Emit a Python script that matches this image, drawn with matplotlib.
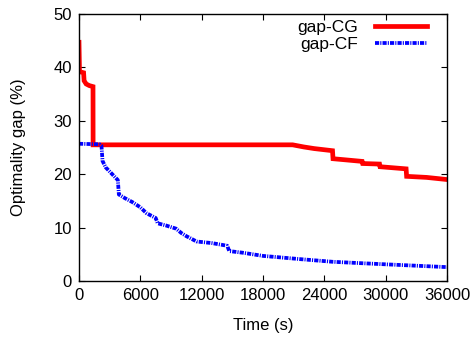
import matplotlib
matplotlib.use("Agg")
import matplotlib.pyplot as plt

plt.rcParams['font.family'] = ['Liberation Sans', 'DejaVu Sans']
plt.rcParams['font.size'] = 12
plt.rcParams['lines.scale_dashes'] = False

cg_time = [0, 50, 450, 500, 700, 1000, 1370, 1380, 2000, 20900, 22000, 23000, 24800, 24850,
           26000, 27700, 27750, 29400, 29450, 32000, 32050, 34000, 36000]
cg_gap = [44.7, 39.2, 39.0, 37.5, 36.9, 36.6, 36.4, 25.5, 25.5, 25.5, 25.1, 24.8, 24.4, 22.9,
          22.7, 22.4, 22.0, 21.9, 21.4, 21.0, 19.6, 19.4, 19.0]

cf_time = [0, 2000, 2200, 2300, 2600, 3000, 3500, 3800, 3900, 4500, 5200, 6000, 6600, 7500,
           7700, 8500, 9500, 10000, 10500, 11500, 13000, 14500, 14700, 16000, 18000, 21600,
           24800, 28000, 31400, 36000]
cf_gap = [25.7, 25.6, 25.3, 22.5, 21.3, 20.5, 19.5, 18.9, 16.2, 15.5, 14.8, 13.8, 12.7, 11.8,
          10.8, 10.4, 9.8, 9.0, 8.4, 7.4, 7.1, 6.6, 5.6, 5.3, 4.7, 4.1, 3.6, 3.3, 3.0, 2.6]

xticks = [0, 6000, 12000, 18000, 24000, 30000, 36000]
yticks = [0, 10, 20, 30, 40, 50]

fig = plt.figure(figsize=(4.76, 3.41), dpi=100)
ax = fig.add_axes([79/476, 1 - 281/341, (447-79)/476, (281-14)/341])

ax.plot(cg_time, cg_gap, color='#ff0000', lw=3.4, label='gap-CG', solid_joinstyle='miter')
ax.plot(cf_time, cf_gap, color='#0000ff', lw=2.7, linestyle=(0, (3, 0.8, 0.8, 0.8)),
        label='gap-CF')

ax.set_xlim(0, 36000)
ax.set_ylim(0, 50)
ax.set_xticks(xticks)
ax.set_yticks(yticks)
ax.tick_params(direction='in', top=True, right=True, length=4, width=0.8, pad=5)
for s in ax.spines.values():
    s.set_linewidth(1.0)
ax.set_xlabel('Time (s)', labelpad=11)
ax.set_ylabel('Optimality gap (%)', labelpad=20)

leg = ax.legend(loc='upper right', frameon=False, markerfirst=False, handlelength=3.0,
                handletextpad=1.0, labelspacing=0.12, borderpad=0, borderaxespad=0,
                bbox_to_anchor=((427-79)/368, (281-20)/267), fontsize=12.5)

fig.savefig('out.png', dpi=100)
